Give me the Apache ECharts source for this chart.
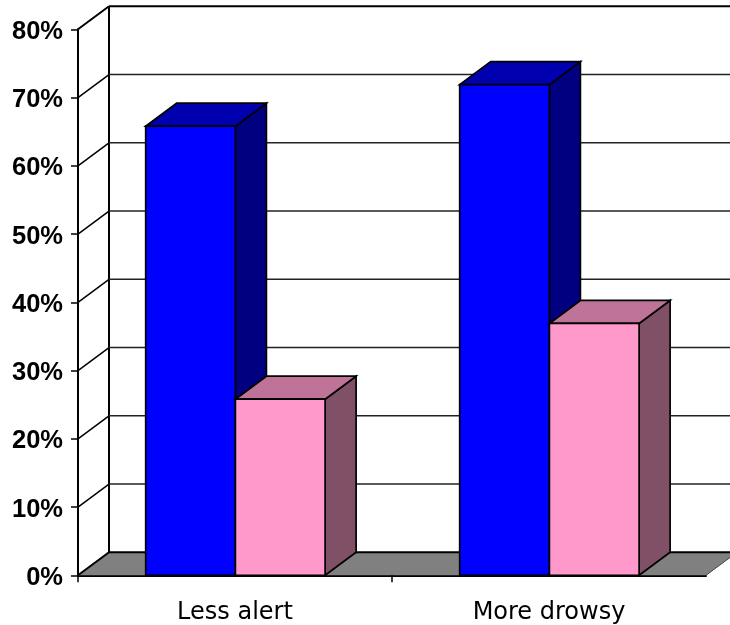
<!DOCTYPE html>
<html>
<head>
<meta charset="utf-8">
<style>html,body{margin:0;padding:0;background:#fff}#chart{width:730px;height:625px}</style>
<script src="https://cdn.jsdelivr.net/npm/echarts@6/dist/echarts.min.js"></script>
</head>
<body>
<div id="chart"></div>
<script>
const categories = ['Less alert', 'More drowsy'];
const blueValues = [65.8, 71.9];
const pinkValues = [25.8, 36.9];
const yTicks = [0, 10, 20, 30, 40, 50, 60, 70, 80];

// Oblique projection of the chart box, in pixels
const DEPTH_X = 31;
const DEPTH_Y = -23;
// Bar width as a share of one category band (gap of 150%)
const BAR_SHARE = 1 / 3.5;
const INK = '#000';

function poly(points, fill, z2) {
  return {
    type: 'polygon',
    z2: z2 || 0,
    shape: { points },
    style: { fill, stroke: INK, lineWidth: 1.7, lineJoin: 'miter' }
  };
}

function line(x1, y1, x2, y2, width, color) {
  return {
    type: 'line',
    shape: { x1, y1, x2, y2 },
    style: { stroke: color || INK, lineWidth: width, lineCap: 'butt' }
  };
}

// Walls, floor and gridlines of the box
function renderWall(params, api) {
  const v = api.value(1);
  const band = api.size([1, 0])[0];
  const p = api.coord([0, v]);
  const left = p[0] - band / 2;
  const right = left + band * categories.length;
  const y = p[1];
  const children = [];
  if (v === 0) {
    children.push({
      type: 'polygon',
      shape: { points: [[left, y], [right, y], [right + DEPTH_X, y + DEPTH_Y], [left + DEPTH_X, y + DEPTH_Y]] },
      style: { fill: '#808080', stroke: null }
    });
    const top = api.coord([0, yTicks[yTicks.length - 1]])[1];
    children.push(line(left + DEPTH_X, y + DEPTH_Y, left + DEPTH_X, top + DEPTH_Y, 2));
    children.push(line(right, y, right + DEPTH_X, y + DEPTH_Y, 1, '#444'));
    children.push(line(left + band, y, left + band, y + 7, 1.5));
    children.push(line(left, y, left, y + 7, 1.5));
  }
  const isEdge = v === 0 || v === yTicks[yTicks.length - 1];
  children.push(line(left, y, left + DEPTH_X, y + DEPTH_Y, isEdge ? 2 : 1.5));
  children.push(line(left + DEPTH_X, y + DEPTH_Y, right + DEPTH_X, y + DEPTH_Y, isEdge ? 2 : 1.5, isEdge ? INK : '#222'));
  return { type: 'group', children };
}

// One 3D box: shift = -1 sits left of the band centre, 0 right of it
function boxRenderer(shift, front, topFace, sideFace) {
  return function (params, api) {
    const c = api.value(0);
    const base = api.coord([c, 0]);
    const head = api.coord([c, api.value(1)]);
    const w = api.size([1, 0])[0] * BAR_SHARE;
    const x0 = base[0] + shift * w + 0.4;
    const x1 = x0 + w;
    const y0 = base[1];
    const y1 = head[1];
    return {
      type: 'group',
      children: [
        poly([[x1, y0], [x1 + DEPTH_X, y0 + DEPTH_Y], [x1 + DEPTH_X, y1 + DEPTH_Y], [x1, y1]], sideFace),
        poly([[x0, y1], [x1, y1], [x1 + DEPTH_X, y1 + DEPTH_Y], [x0 + DEPTH_X, y1 + DEPTH_Y]], topFace),
        poly([[x0, y0], [x1, y0], [x1, y1], [x0, y1]], front)
      ]
    };
  };
}

const chart = echarts.init(document.getElementById('chart'), null, { renderer: 'canvas' });
chart.setOption({
  animation: false,
  backgroundColor: '#fff',
  grid: { left: 78, right: 24, top: 29.3, bottom: 49.7, containLabel: false },
  xAxis: {
    type: 'category',
    data: categories,
    axisLine: { show: true, onZero: false, lineStyle: { color: INK, width: 2 } },
    axisTick: { show: false },
    axisLabel: {
      color: '#000',
      fontFamily: '"DejaVu Sans", sans-serif',
      fontSize: 24,
      margin: 25
    }
  },
  yAxis: {
    type: 'value',
    min: 0,
    max: 80,
    interval: 10,
    axisLine: { show: true, lineStyle: { color: INK, width: 2 } },
    axisTick: { show: true, length: 7, lineStyle: { color: INK, width: 1.5 } },
    splitLine: { show: false },
    axisLabel: {
      formatter: '{value}%',
      color: '#000',
      fontFamily: '"Liberation Sans", Arial, sans-serif',
      fontWeight: 'bold',
      fontSize: 25.5,
      margin: 15,
      verticalAlign: 'top',
      lineHeight: 5
    }
  },
  series: [
    {
      type: 'custom',
      name: 'walls',
      silent: true,
      renderItem: renderWall,
      data: yTicks.map(v => [0, v]),
      z: 1
    },
    {
      type: 'custom',
      name: 'Blue',
      renderItem: boxRenderer(-1, '#0000ff', '#0000b0', '#000080'),
      data: blueValues.map((v, i) => [i, v]),
      z: 2
    },
    {
      type: 'custom',
      name: 'Pink',
      renderItem: boxRenderer(0, '#ff99cc', '#bf7399', '#805066'),
      data: pinkValues.map((v, i) => [i, v]),
      z: 3
    }
  ]
});
</script>
</body>
</html>
